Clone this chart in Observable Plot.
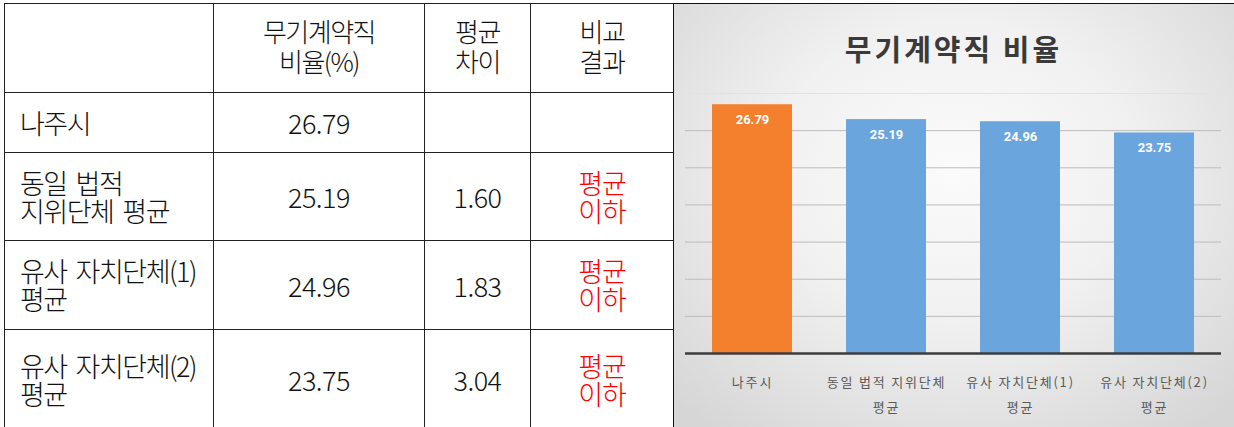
<!DOCTYPE html>
<html>
<head>
<meta charset="utf-8">
<script src="https://cdn.jsdelivr.net/npm/d3@7"></script>
<script src="https://cdn.jsdelivr.net/npm/@observablehq/plot@0.6"></script>
<style>
  html, body { margin: 0; padding: 0; background: #ffffff; width: 1234px; height: 427px; overflow: hidden; }
  body { position: relative; font-family: "Noto Sans CJK KR", "Noto Sans", sans-serif; }
  #tbl {
    position: absolute; left: 4px; top: 3px; width: 669px;
    border-collapse: collapse; table-layout: fixed;
    border: 1.5px solid #111;
  }
  #tbl td { border: 1.5px solid #222; padding: 0; vertical-align: middle; color: #111; white-space: nowrap; font-weight: 300; }
  #tbl td.lab { text-align: left; padding-left: 15px; font-size: 27px; line-height: 28px; letter-spacing: -1.5px; }
  #tbl td.num { text-align: center; font-size: 27px; letter-spacing: -0.5px; }
  #tbl td.res { text-align: center; font-size: 27px; line-height: 28px; color: #ff0000; letter-spacing: -1px; }
  #tbl tr.head td { text-align: center; font-size: 26px; line-height: 30px; letter-spacing: -1.5px; padding-bottom: 4px; }
  #chartbg {
    position: absolute; left: 673px; top: 3px; width: 561px; height: 440px;
    box-sizing: border-box; border-left: 1.5px solid #111; border-top: 1.5px solid #111;
    background: radial-gradient(ellipse 70% 75% at 50% 38%, #fbfbfb 0%, #f1f1f1 45%, #d6d6d6 100%);
  }
  #title {
    position: absolute; left: 673px; top: 28px; width: 561px; text-align: center;
    font-size: 29px; line-height: 40px; font-weight: 700; color: #3a3a3a; letter-spacing: 3px;
  }
  #plot { position: absolute; left: 673px; top: 73px; }
  #plot g[aria-label="x-axis tick label"] text { letter-spacing: 1.8px; }
</style>
</head>
<body>
<table id="tbl"></table>
<div id="chartbg"></div>
<div id="title">무기계약직 비율</div>
<div id="plot"></div>
<script>
// ---- data ----
const headers = ["", "무기계약직\n비율(%)", "평균\n차이", "비교\n결과"];
const tableRowLabels = ["나주시", "동일\u00a0\u00a0법적\n지위단체\u00a0\u00a0평균", "유사\u00a0\u00a0자치단체(1)\n평균", "유사\u00a0\u00a0자치단체(2)\n평균"];
const categories = ["나주시", "동일 법적 지위단체\n평균", "유사 자치단체(1)\n평균", "유사 자치단체(2)\n평균"];
const ratios = [26.79, 25.19, 24.96, 23.75];
const diffs = ["", "1.60", "1.83", "3.04"];
const results = ["", "평균\n이하", "평균\n이하", "평균\n이하"];
const yTicks = [4, 8, 12, 16, 20, 24];
const yTopTick = [28];
const barColors = ["#F47F2C", "#6AA6DD", "#6AA6DD", "#6AA6DD"];

// ---- table ----
const tbl = document.getElementById("tbl");
const colW = [209, 211, 106, 143];
const rowH = [89, 60, 88, 89, 100];
const cg = document.createElement("colgroup");
colW.forEach(w => { const c = document.createElement("col"); c.style.width = w + "px"; cg.appendChild(c); });
tbl.appendChild(cg);
function cell(tr, text, cls) {
  const td = document.createElement("td");
  td.className = cls;
  text.split("\n").forEach((line, i) => {
    if (i) td.appendChild(document.createElement("br"));
    td.appendChild(document.createTextNode(line));
  });
  tr.appendChild(td);
}
const hr = document.createElement("tr");
hr.className = "head"; hr.style.height = rowH[0] + "px";
headers.forEach(h => cell(hr, h, ""));
tbl.appendChild(hr);
tableRowLabels.forEach((lab, i) => {
  const tr = document.createElement("tr");
  tr.style.height = rowH[i + 1] + "px";
  cell(tr, lab, "lab");
  cell(tr, ratios[i].toFixed(2), "num");
  cell(tr, diffs[i], "num");
  cell(tr, results[i], "res");
  tbl.appendChild(tr);
});

// ---- chart ----
const data = categories.map((c, i) => ({cat: c, value: ratios[i]}));
const chart = Plot.plot({
  width: 561,
  height: 354,
  marginTop: 20,
  marginBottom: 74,
  marginLeft: 12,
  marginRight: 13,
  style: {background: "transparent", fontFamily: "'Noto Sans CJK KR', sans-serif", overflow: "visible"},
  x: {domain: categories, paddingInner: 0.4, paddingOuter: 0.2, label: null},
  y: {domain: [0, 28], axis: null},
  color: {domain: categories, range: barColors},
  marks: [
    Plot.gridY(yTopTick, {stroke: "#e2e2e2", strokeOpacity: 1, strokeWidth: 1}),
    Plot.gridY(yTicks, {stroke: "#bcbcbc", strokeOpacity: 1, strokeWidth: 1}),
    Plot.barY(data, {x: "cat", y: "value", fill: "cat"}),
    Plot.ruleY([0], {stroke: "#3c3c3c", strokeWidth: 2.5}),
    Plot.text(data, {x: "cat", y: "value", dy: 15, text: d => d.value.toFixed(2), fill: "#ffffff",
      fontWeight: "bold", fontSize: 13, fontFamily: "Roboto, sans-serif"}),
    Plot.axisX({tickSize: 0, tickPadding: 16, fontSize: 13, fill: "#5a5a5a", lineHeight: 1.9, label: null})
  ]
});
document.getElementById("plot").appendChild(chart);
</script>
</body>
</html>
